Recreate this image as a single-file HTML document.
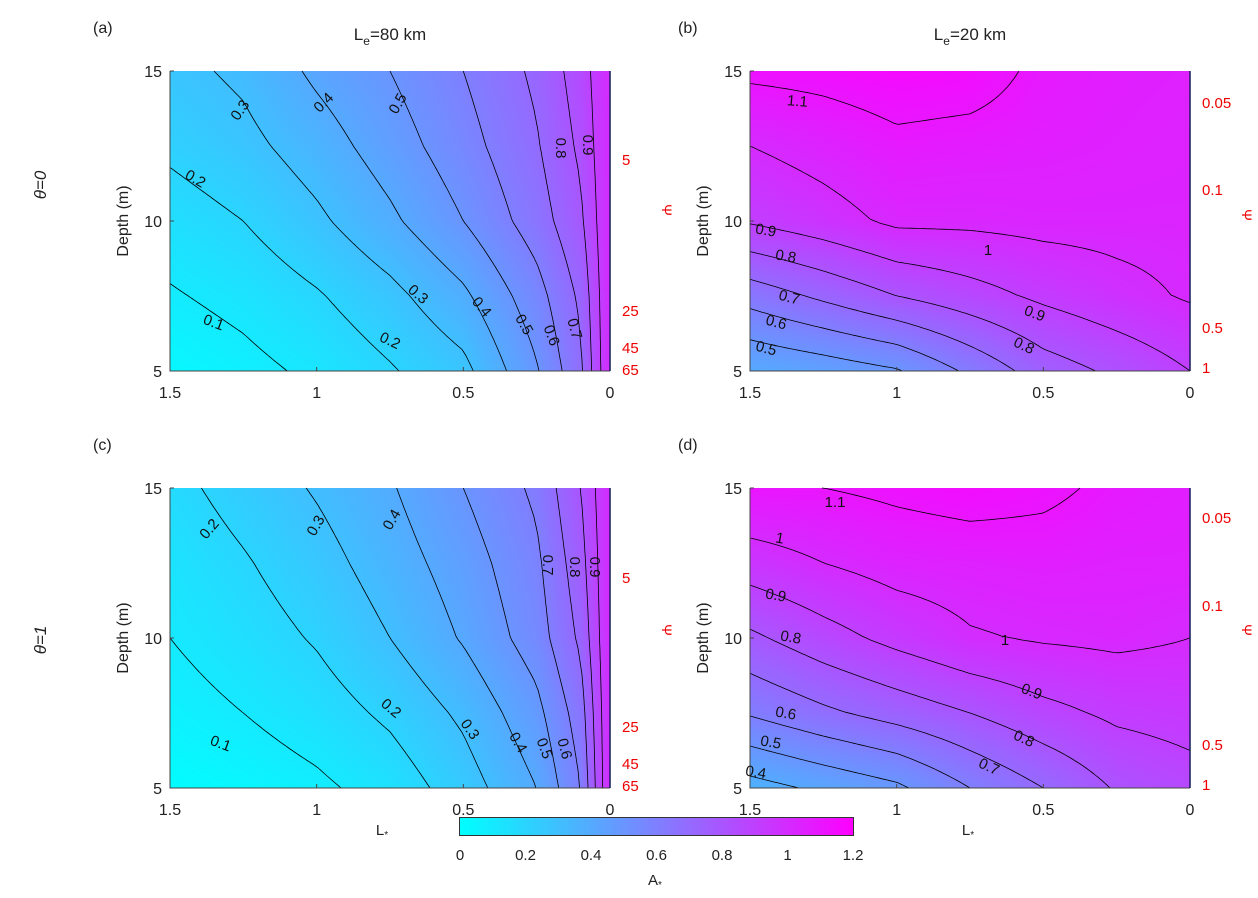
<!DOCTYPE html>
<html><head><meta charset="utf-8">
<style>
body{margin:0;background:#fff;width:1258px;height:898px;position:relative;overflow:hidden;font-family:"Liberation Sans",Arial,sans-serif;}
canvas{position:absolute;}
svg{position:absolute;left:0;top:0;}
</style></head>
<body>
<canvas id="ca" width="440" height="300" style="left:170px;top:71px"></canvas>
<canvas id="cb" width="440" height="300" style="left:750px;top:71px"></canvas>
<canvas id="cc" width="440" height="300" style="left:170px;top:488px"></canvas>
<canvas id="cd" width="440" height="300" style="left:750px;top:488px"></canvas>
<canvas id="cbar" width="393" height="17" style="left:460px;top:818px;outline:1px solid #333"></canvas>
<svg id="s" width="1258" height="898"></svg>
<script>
// ---- data ----
const Lfine = [1.5,1.25,1.0,0.75,0.5,0.25,0.1,0];
const Lcoarse = [1.5,1.25,1.0,0.75,0.5,0.25,0];
const depths = [15,12.5,10,7.5,5];
const valsA = [
 [0.27,0.32,0.42,0.50,0.60,0.72,0.85,1.0],
 [0.22,0.27,0.35,0.45,0.56,0.69,0.82,1.0],
 [0.15,0.20,0.28,0.38,0.50,0.65,0.78,1.0],
 [0.09,0.13,0.19,0.27,0.38,0.56,0.72,1.0],
 [0.03,0.07,0.12,0.19,0.27,0.49,0.68,1.0]];
const valsB = [
 [1.12,1.13,1.15,1.14,1.08,1.06,1.05],
 [1.00,1.04,1.08,1.07,1.06,1.05,1.04],
 [0.91,0.96,1.02,1.02,1.03,1.03,1.03],
 [0.64,0.72,0.80,0.86,0.92,0.97,1.01],
 [0.40,0.44,0.49,0.62,0.75,0.82,0.90]];
const valsC = [
 [0.17,0.24,0.31,0.39,0.50,0.62,0.80,1.0],
 [0.13,0.19,0.26,0.35,0.45,0.58,0.76,1.0],
 [0.10,0.15,0.21,0.30,0.41,0.55,0.72,1.0],
 [0.06,0.10,0.15,0.22,0.32,0.47,0.65,1.0],
 [0.01,0.04,0.08,0.14,0.25,0.40,0.60,1.0]];
const valsD = [
 [1.10,1.10,1.12,1.14,1.12,1.08,1.06],
 [0.95,1.00,1.04,1.05,1.06,1.05,1.05],
 [0.78,0.86,0.93,0.99,1.01,1.02,1.00],
 [0.61,0.68,0.74,0.80,0.87,0.92,0.94],
 [0.36,0.42,0.48,0.60,0.70,0.81,0.86]];
const levels = [0.1,0.2,0.3,0.4,0.5,0.6,0.7,0.8,0.9,1.0,1.1];
const xTicks = [1.5,1,0.5,0];
const yTicks = [5,10,15];
const cbTicks = [0,0.2,0.4,0.6,0.8,1,1.2];

const NS='http://www.w3.org/2000/svg';
const svg=document.getElementById('s');
function mk(tag,attrs,txt){const e=document.createElementNS(NS,tag);for(const k in attrs)e.setAttribute(k,attrs[k]);if(txt!==undefined)e.textContent=txt;svg.appendChild(e);return e;}
function cmap(v){let t=Math.max(0,Math.min(1,v/1.2));return [Math.round(255*t),Math.round(255*(1-t)),255];}
function interp1(arr,xs,x){
  for(let i=0;i<xs.length-1;i++){if(x<=xs[i]&&x>=xs[i+1]){const f=(xs[i]-x)/(xs[i]-xs[i+1]);return [i,f];}}
  return [xs.length-2,1];}
function field(vals,Ls,L,d){
  const [i,fi]=interp1(null,Ls,L);const [j,fj]=interp1(null,depths,d);
  const a=vals[j][i]*(1-fi)+vals[j][i+1]*fi, b=vals[j+1][i]*(1-fi)+vals[j+1][i+1]*fi;
  return a*(1-fj)+b*fj;}

function panel(id,vals,Ls,x0,y0,name){
  const W=440,H=300;
  const xs=L=>x0+(1.5-L)/1.5*W, ys=d=>y0+(15-d)/10*H;
  const c=document.getElementById(id).getContext('2d');const img=c.createImageData(W,H);
  for(let py=0;py<H;py++)for(let px=0;px<W;px++){
    const v=field(vals,Ls,1.5-(px+0.5)/W*1.5,15-(py+0.5)/H*10);const col=cmap(v);const k=(py*W+px)*4;
    img.data[k]=col[0];img.data[k+1]=col[1];img.data[k+2]=col[2];img.data[k+3]=255;}
  c.putImageData(img,0,0);
  const nx=110,ny=75;const g=[];
  for(let j=0;j<=ny;j++){g.push([]);for(let i=0;i<=nx;i++)g[j].push(field(vals,Ls,1.5-i/nx*1.5,15-j/ny*10));}
  let dstr='';
  const px=i=>x0+i/nx*W, py=j=>y0+j/ny*H;
  levels.forEach(lv0=>{
    const lv=lv0+1e-6;
    for(let j=0;j<ny;j++)for(let i=0;i<nx;i++){
      const c4=[[i,j,g[j][i]],[i+1,j,g[j][i+1]],[i+1,j+1,g[j+1][i+1]],[i,j+1,g[j+1][i]]];
      const pts=[];
      for(let e=0;e<4;e++){const a=c4[e],b=c4[(e+1)%4];
        if((a[2]-lv)*(b[2]-lv)<0){const f=(lv-a[2])/(b[2]-a[2]);pts.push([px(a[0]+(b[0]-a[0])*f),py(a[1]+(b[1]-a[1])*f)]);}}
      if(pts.length>=2)dstr+=`M${pts[0][0].toFixed(1)} ${pts[0][1].toFixed(1)}L${pts[1][0].toFixed(1)} ${pts[1][1].toFixed(1)}`;
      if(pts.length===4)dstr+=`M${pts[2][0].toFixed(1)} ${pts[2][1].toFixed(1)}L${pts[3][0].toFixed(1)} ${pts[3][1].toFixed(1)}`;
    }});
  const p=mk('path',{d:dstr,stroke:'#000','stroke-width':0.8,fill:'none'});
  
  
  const ax=mk('path',{d:`M${x0} ${y0}V${y0+H}H${x0+W}`,stroke:'#444','stroke-width':1,fill:'none'});
  
  
  xTicks.forEach(t=>{const x=xs(t);mk('line',{x1:x,x2:x,y1:y0+H,y2:y0+H-4,stroke:'#444'});
    const tx=mk('text',{x:x,y:y0+H+27,'font-size':16,'text-anchor':'middle',fill:'#222'},String(t));
    
    });
  yTicks.forEach(t=>{const y=ys(t);mk('line',{x1:x0,x2:x0+4,y1:y,y2:y,stroke:'#444'});
    const tx=mk('text',{x:x0-8,y:y+6,'font-size':16,'text-anchor':'end',fill:'#222'},String(t));
    
    });
  const yl=mk('text',{x:0,y:0,'font-size':16,'text-anchor':'middle',fill:'#222',transform:`translate(${x0-42},${y0+H/2}) rotate(-90)`},'Depth (m)');
  
  
  mk('line',{x1:x0+W,x2:x0+W,y1:y0,y2:y0+H,stroke:'#1a1a5a','stroke-width':1.5});
}
panel('ca',valsA,Lfine,170,71,'panel-a');
panel('cb',valsB,Lcoarse,750,71,'panel-b');
panel('cc',valsC,Lfine,170,488,'panel-c');
panel('cd',valsD,Lcoarse,750,488,'panel-d');

(function(){const c=document.getElementById('cbar').getContext('2d');
  for(let x=0;x<393;x++){const col=cmap(x/393*1.2);c.fillStyle=`rgb(${col})`;c.fillRect(x,0,1,17);}
  cbTicks.forEach(t=>{const x=460+t/1.2*393;
    const tx=mk('text',{x:x,y:860,'font-size':15,'text-anchor':'middle',fill:'#222'},String(t));
    
    });
})();

function T(x,y,s,attrs,name){const a=Object.assign({x:x,y:y,'font-size':16,fill:'#222'},attrs||{});const e=mk('text',a,s);
  
  return e;}
T(93,33,'(a)',{},'panel-a-letter');T(678,33,'(b)',{},'panel-b-letter');
T(93,450,'(c)',{},'panel-c-letter');T(678,450,'(d)',{},'panel-d-letter');
const t1=T(390,40,'',{'text-anchor':'middle','font-size':17},'panel-a-title');t1.innerHTML='L<tspan font-size="12" dy="5">e</tspan><tspan dy="-5">=80 km</tspan>';
const t2=T(970,40,'',{'text-anchor':'middle','font-size':17},'panel-b-title');t2.innerHTML='L<tspan font-size="12" dy="5">e</tspan><tspan dy="-5">=20 km</tspan>';
T(0,0,'θ=0',{'text-anchor':'middle','font-size':17,'font-style':'italic',transform:'translate(46,185) rotate(-90)'},'row-1-label');
T(0,0,'θ=1',{'text-anchor':'middle','font-size':17,'font-style':'italic',transform:'translate(46,640) rotate(-90)'},'row-2-label');
const la=T(382,835,'',{'text-anchor':'middle','font-size':15},'x-axis-title-left');la.innerHTML='L<tspan font-size="10" dy="3">*</tspan>';
const lb=T(968,835,'',{'text-anchor':'middle','font-size':15},'x-axis-title-right');lb.innerHTML='L<tspan font-size="10" dy="3">*</tspan>';
const lc=T(655,885,'',{'text-anchor':'middle','font-size':15},'colorbar-title');lc.innerHTML='A<tspan font-size="10" dy="3">*</tspan>';
[[622,[['5',165],['25',316],['45',353],['65',375]],210],[1202,[['0.05',108],['0.1',195],['0.5',333],['1',373]],215],
 [622,[['5',583],['25',732],['45',769],['65',791]],630],[1202,[['0.05',523],['0.1',611],['0.5',750],['1',790]],630]].forEach(a=>{
  a[1].forEach(k=>T(a[0],k[1],k[0],{fill:'#e00','font-size':15},'psi-tick-label'));
  T(0,0,'Ψ',{fill:'#e00','font-size':14,'text-anchor':'middle',transform:`translate(${a[0]+40},${a[2]}) rotate(90)`},'psi-axis-title');
});
const cl=[[244,108,'0.3',-55],[327,101,'0.4',-45],[402,101,'0.5',-60],[556,143,'0.8',90],[583,140,'0.9',90],[193,178,'0.2',30],[212,322,'0.1',20],[388,340,'0.2',25],[415,293,'0.3',40],[478,305,'0.4',50],[520,322,'0.5',60],[547,332,'0.6',70],[570,325,'0.7',75],
[797,101,'1.1',5],[765,230,'0.9',10],[988,250,'1',0],[785,256,'0.8',10],[788,297,'0.7',15],[1033,313,'0.9',20],[775,322,'0.6',15],[1022,345,'0.8',25],[765,348,'0.5',15],
[213,527,'0.2',-50],[320,523,'0.3',-60],[396,517,'0.4',-60],[543,560,'0.7',90],[570,562,'0.8',90],[590,562,'0.9',90],[219,743,'0.1',20],[388,707,'0.2',40],[466,727,'0.3',55],[514,740,'0.4',60],[540,745,'0.5',70],[560,745,'0.6',75],
[835,502,'1.1',0],[779,538,'1',10],[775,595,'0.9',10],[790,637,'0.8',10],[1005,640,'1',0],[1030,691,'0.9',20],[785,713,'0.6',10],[1022,738,'0.8',25],[770,742,'0.5',10],[987,766,'0.7',25],[755,772,'0.4',10]];
cl.forEach(c=>T(0,0,c[2],{'font-size':15,'text-anchor':'middle',fill:'#111',transform:`translate(${c[0]},${c[1]+5}) rotate(${c[3]})`},'contour-label'));
</script>
</body></html>
